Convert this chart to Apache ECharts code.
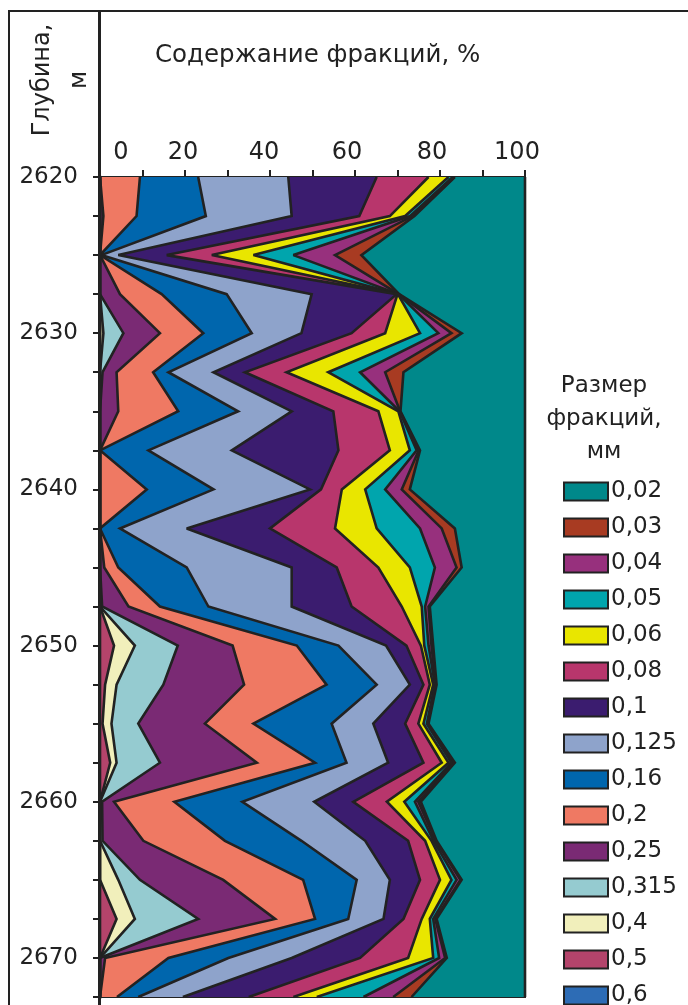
<!DOCTYPE html>
<html><head><meta charset="utf-8">
<script src="https://cdn.jsdelivr.net/npm/echarts@6/dist/echarts.min.js"></script>
<style>html,body{margin:0;padding:0;background:#fff}#c{width:688px;height:1005px}</style>
</head><body><div id="c"></div>
<script>
// Depth of samples, m
const depths = [2620,2622.5,2625,2627.5,2630,2632.5,2635,2637.5,2640,2642.5,2645,2647.5,2650,2652.5,2655,2657.5,2660,2662.5,2665,2667.5,2670,2672.5];
// Fraction sizes, mm (legend order)
const fractions = ['0,02','0,03','0,04','0,05','0,06','0,08','0,1','0,125','0,16','0,2','0,25','0,315','0,4','0,5','0,6'];
const xTicks = [0,20,40,60,80,100];
// Cumulative content (%) of all fractions from the coarsest (0,6 mm) down to the given size
const cum_0_6   = [0,0,0,0,0,0,0,0,0,0,0,0,0,0,0,0,0,0,0,0,0,0];
const cum_0_5   = [0,0,0,0,0,0,0,0,0,0,0,0,3.3,1.2,0.6,2.4,0,0,0,3.9,0,0];
const cum_0_4   = [0,0,0,0,0.8,0,0,0,0,0,0,0,8.2,3.9,2.7,3.9,0,0,4.3,8.2,0,0];
const cum_0_315 = [0,0,0,0,5.5,0.6,0,0,0,0,0,0.5,18.3,14.9,9,14.1,0.5,0.6,9.4,23.1,0,0];
const cum_0_25  = [0,0.8,0,4.7,14.1,3.9,4.3,0,0,0,1,6.7,31.2,33.9,24.7,36.9,3.3,10.2,29,41.2,1.2,0];
const cum_0_2   = [9.4,8.6,0,14.5,24.3,12.5,18.4,0,11,0,4.3,14.1,46.3,53.3,36.1,50.6,17.5,29.4,47.8,50.6,16.1,4];
const cum_0_16  = [23.1,24.9,0.3,29.8,35.7,16.1,32.5,11.4,26.7,4.7,20.4,25.5,56.1,65.1,54.5,58,33.5,47.4,60.4,58.4,30.2,9];
const cum_0_125 = [44.3,45.1,4.3,49.8,47.4,26.7,45.1,31,49.4,20.4,45.1,45.1,67.3,72.9,64.3,67.8,50.4,62.4,68.2,66.7,45.1,19.5];
const cum_0_1   = [65.1,61,15.7,69.8,59.2,34.1,54.9,56.1,52,40,55.7,59.2,72.1,76.1,71.8,76.1,59.6,72.5,75.3,71.4,61.2,35];
const cum_0_08  = [77.3,68.2,26.3,70,67.1,43.9,65.5,68.2,56.9,55.3,65.5,71,75.5,77.6,74.9,80.4,67.5,76.5,80,75.7,72.5,45.5];
const cum_0_06  = [82,71.8,36.1,70.1,75.3,53.7,70.2,72.9,62.4,65.1,72.9,75.7,76.3,78.4,76.1,82,71.6,78,82.7,77.6,78.4,51];
const cum_0_05  = [83,73,45.5,70.2,79.6,61.2,70.5,74.5,67.1,75.3,78.8,76.5,77.3,78.8,76.9,82.7,74.1,78.5,83.9,78.4,79.8,62];
const cum_0_04  = [83.3,73.6,55.3,70.3,82.7,67.1,70.6,75,71,80.4,83.9,77.3,78,79,77.1,83.2,74.9,79,84.8,78.9,81.2,69];
const cum_0_03  = [83.5,74,61.5,70.4,85.1,71.4,70.7,75.3,72.9,83.5,85.1,77.6,78.4,79.2,77.3,83.5,75.5,79.2,85.1,79.2,81.6,73.3];
const cum_0_02  = [100,100,100,100,100,100,100,100,100,100,100,100,100,100,100,100,100,100,100,100,100,100];

const seriesData = [cum_0_02,cum_0_03,cum_0_04,cum_0_05,cum_0_06,cum_0_08,cum_0_1,cum_0_125,cum_0_16,cum_0_2,cum_0_25,cum_0_315,cum_0_4,cum_0_5,cum_0_6];
const colors = ['#00888a','#a83b22','#97307d','#00a5ad','#e9e600','#b8366c','#3b1c6f','#8ea3cb','#0066ad','#ef7963','#7a2a74','#95cbd0','#f1efbb','#b4446b','#2d6cb5'];

const FONT = 'DejaVu Sans';
const INK = '#222';

const series = fractions.map((name, i) => ({
  type: 'line',
  name: name,
  data: seriesData[i],
  symbol: 'none',
  smooth: false,
  color: colors[i],
  itemStyle: {color: colors[i]},
  lineStyle: {color: INK, width: 2.6, join: 'miter', miterLimit: 3},
  areaStyle: {color: colors[i], opacity: 1},
  z: 2 + i
}));

const xLabelStyle = {fontFamily: FONT, fontSize: 24, color: INK};

const chart = echarts.init(document.getElementById('c'), null, {renderer: 'canvas'});
chart.setOption({
  animation: false,
  backgroundColor: '#fff',
  title: [
    {text: 'Содержание фракций, %', left: 155, top: 43, padding: 0,
     textStyle: {fontFamily: FONT, fontSize: 24.5, fontWeight: 'normal', color: INK}},
    {text: 'Размер\nфракций,\nмм', left: 604, top: 370, padding: 0, textAlign: 'center',
     textStyle: {fontFamily: FONT, fontSize: 23, fontWeight: 'normal', color: INK, lineHeight: 33}}
  ],
  grid: {left: 100, right: 163, top: 177, bottom: 8, show: true, borderColor: INK, borderWidth: 2, containLabel: false},
  xAxis: {
    type: 'value', position: 'top', min: 0, max: 100, interval: 10,
    axisLine: {show: true, lineStyle: {color: INK, width: 2}},
    axisTick: {show: true, inside: false, length: 7, lineStyle: {color: INK, width: 2}},
    splitLine: {show: false},
    axisLabel: {
      margin: 12,
      formatter: v => xTicks.indexOf(v) < 0 ? '' : (v === 0 ? '{a|0}' : (v === 20 ? '{n|20}' : (v === 40 ? '{c|40}' : '{b|' + v + '}'))),
      rich: {
        a: Object.assign({padding: [0,0,0,42]}, xLabelStyle),
        b: Object.assign({padding: [0,16,0,0]}, xLabelStyle),
        c: Object.assign({padding: [0,12,0,0]}, xLabelStyle),
        n: Object.assign({padding: [0,4,0,0]}, xLabelStyle)
      }
    }
  },
  yAxis: {
    type: 'category', inverse: true, boundaryGap: false,
    data: depths.map(String),
    axisLine: {show: true, lineStyle: {color: INK, width: 3}},
    axisTick: {show: true, interval: 0, length: 7, lineStyle: {color: INK, width: 2}},
    splitLine: {show: false},
    axisLabel: {interval: 3, margin: 22, fontFamily: FONT, fontSize: 23, color: INK, padding: [0,0,14,0]}
  },
  legend: {
    orient: 'vertical', left: 563, top: 480, width: 125, height: 560, padding: 0,
    itemWidth: 44, itemHeight: 18, itemGap: 13, icon: 'rect', selectedMode: false,
    data: fractions,
    itemStyle: {borderColor: INK, borderWidth: 2},
    textStyle: {fontFamily: FONT, fontSize: 23, color: INK, padding: [0,0,0,-2]}
  },
  graphic: [
    {type: 'line', shape: {x1: 9, y1: 11, x2: 9, y2: 1005}, style: {stroke: INK, lineWidth: 2}, z: 100},
    {type: 'line', shape: {x1: 8, y1: 11, x2: 688, y2: 11}, style: {stroke: INK, lineWidth: 2}, z: 100},
    {type: 'line', shape: {x1: 99.5, y1: 11, x2: 99.5, y2: 1005}, style: {stroke: INK, lineWidth: 3}, z: 100},
    {type: 'text', x: 61, y: 80, rotation: Math.PI / 2,
     style: {text: 'Глубина,\nм', fontFamily: FONT, fontSize: 24, fill: INK, align: 'center', verticalAlign: 'middle', lineHeight: 37}, z: 100}
  ],
  series: series
});
</script></body></html>
